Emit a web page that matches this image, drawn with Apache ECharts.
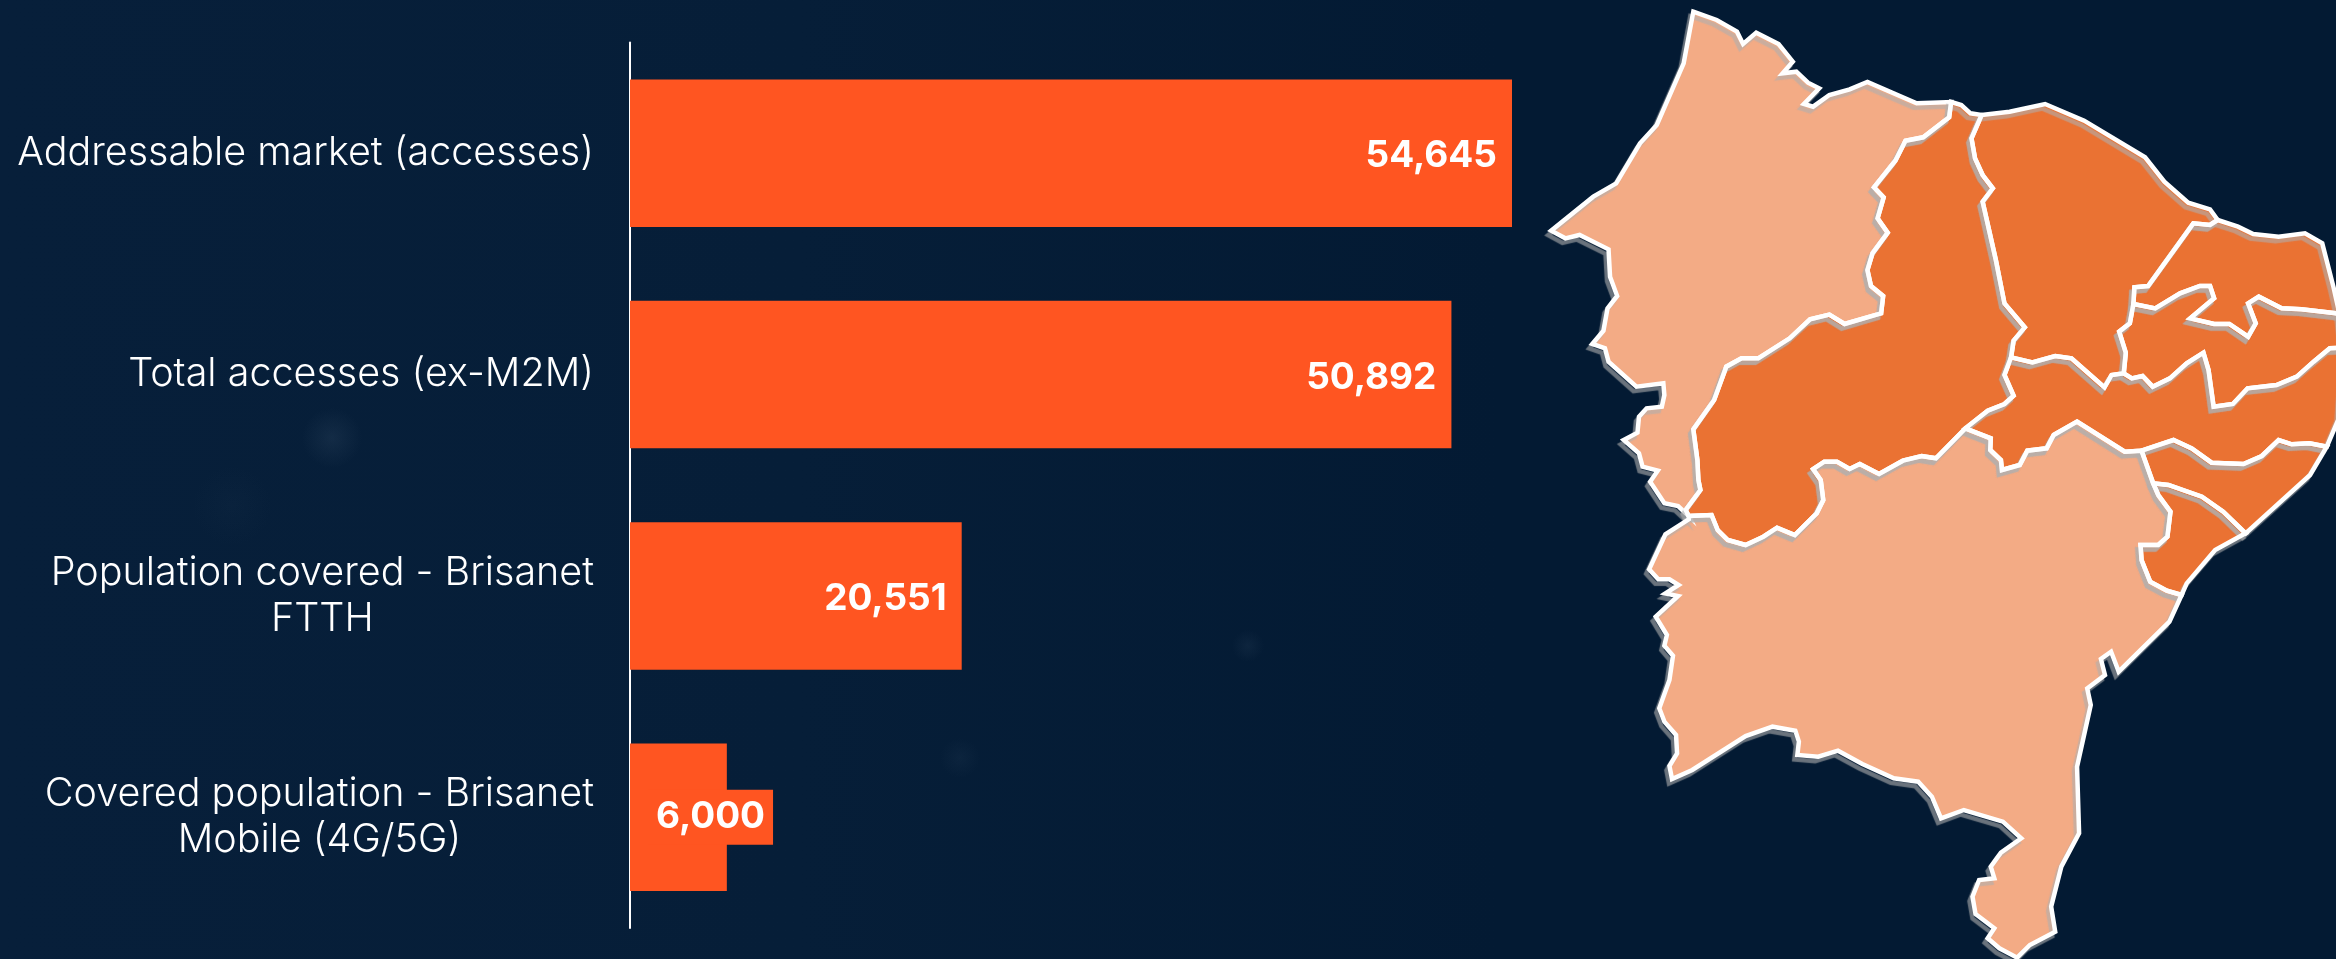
<!DOCTYPE html>
<html>
<head>
<meta charset="utf-8">
<title>Addressable market</title>
<script src="https://cdn.jsdelivr.net/npm/echarts@6/dist/echarts.min.js"></script>
<style>
  html, body { margin: 0; padding: 0; }
  #chart {
    width: 2336px;
    height: 959px;
    background-color: #041b35;
    background-image:
      radial-gradient(circle 30px at 332px 438px, rgba(70, 95, 120, 0.2), transparent),
      radial-gradient(circle 40px at 232px 506px, rgba(60, 85, 110, 0.06), transparent),
      radial-gradient(circle 16px at 1248px 646px, rgba(70, 95, 120, 0.14), transparent),
      radial-gradient(circle 20px at 960px 758px, rgba(70, 95, 120, 0.1), transparent),
      linear-gradient(90deg, #071f3a 0, #061e38 800px, #031a33 1500px);
  }
</style>
</head>
<body>
<div id="chart"></div>
<script>
// bar chart values
const categories = [
  "Addressable market (accesses)",
  "Total accesses (ex-M2M)",
  "Population covered - Brisanet\nFTTH",
  "Covered population - Brisanet\nMobile (4G/5G)"
];
const accesses = [54645, 50892, 20551, 6000];

// state borders, one trace unit = 1/1.97 px wide, 1/3 px high
const maNorth = [[302,35],[348,60],[388,95],[400,132],[426,98],[470,132],[498,185],[478,220],[505,215],[528,248],[550,265],[520,312],[538,320],[570,285],[610,268],[645,246],[742,310],[810,306]];
const maPiBorder = [[810,306],[806,352],[755,412],[720,422],[700,482],[658,562],[677,592],[665,655],[685,698],[655,760],[645,810],[652,858],[676,888],[672,940],[600,972],[570,944],[532,958],[492,1015],[430,1075],[397,1075],[367,1100],[343,1200],[302,1288],[310,1380],[312,1440],[316,1470],[287,1530],[293,1548]];
const maWest = [[293,1548],[272,1518],[245,1510],[217,1445],[232,1412],[202,1400],[195,1360],[165,1320],[192,1298],[195,1250],[210,1225],[240,1220],[245,1185],[243,1150],[190,1160],[135,1085],[128,1045],[103,1032],[125,992],[133,925],[152,888],[138,830],[135,748],[78,705],[50,715],[22,692],[105,590],[150,550],[197,430],[230,375],[283,190],[302,35]];
const piNorth = [[810,306],[830,315],[848,340],[870,345]];
const piCeBorder = [[870,345],[850,415],[857,475],[872,525],[892,565],[872,605],[898,780],[915,910],[955,982],[933,1022],[928,1072]];
const piPeBorder = [[928,1072],[915,1125],[933,1187],[915,1212],[882,1232],[838,1285]];
const piBaBorder = [[838,1285],[780,1375],[752,1368],[715,1382],[668,1422],[630,1392],[610,1407],[585,1385],[560,1385],[538,1407],[553,1440],[558,1500],[545,1540],[502,1605],[467,1583],[440,1610],[405,1635],[370,1620],[350,1590],[338,1545],[293,1548]];
const ceCoast = [[870,345],[925,335],[995,312],[1072,362],[1192,472],[1230,545],[1277,608],[1320,628],[1335,660]];
const ceRnBorder = [[1335,660],[1320,675],[1287,670],[1198,858],[1171,862],[1169,912]];
const cePbBorder = [[1169,912],[1162,970],[1141,995],[1154,1058],[1150,1120]];
const cePeBorder = [[1150,1120],[1126,1125],[1112,1162],[1047,1075],[1015,1068],[970,1087],[928,1072]];
const rnCoast = [[1335,660],[1375,680],[1405,702],[1455,710],[1507,700],[1541,730],[1563,860],[1575,942]];
const rnPbBorder = [[1575,942],[1568,940],[1500,928],[1461,925],[1416,890],[1395,910],[1410,970],[1395,1010],[1358,972],[1328,972],[1281,955],[1328,895],[1320,858],[1300,858],[1261,880],[1212,925],[1169,912]];
const pbPeBorder = [[1150,1120],[1166,1135],[1187,1128],[1207,1160],[1241,1135],[1274,1090],[1307,1058],[1317,1110],[1327,1220],[1365,1212],[1394,1165],[1451,1155],[1491,1130],[1524,1085],[1556,1045],[1582,1043]];
const pbCoast = [[1575,942],[1582,1043]];
const peCoast = [[1582,1043],[1582,1100],[1575,1250],[1550,1340]];
const peAlBorder = [[1550,1340],[1516,1330],[1481,1333],[1455,1320],[1422,1368],[1386,1392],[1323,1388],[1284,1345],[1248,1320],[1185,1352]];
const peBaBorder = [[1185,1352],[1152,1355],[1058,1265],[1012,1305],[998,1345],[960,1352],[945,1395],[910,1410],[908,1380],[887,1350],[888,1315],[838,1285]];
const alCoast = [[1550,1340],[1517,1425],[1390,1600]];
const alSeBorder = [[1390,1600],[1346,1535],[1304,1490],[1238,1455],[1208,1450]];
const alBaBorder = [[1208,1450],[1185,1352]];
const seBaBorder = [[1208,1450],[1218,1485],[1242,1535],[1236,1610],[1218,1635],[1183,1635],[1185,1680],[1202,1745],[1235,1772],[1264,1785]];
const seCoast = [[1264,1785],[1274,1750],[1330,1650],[1390,1600]];
const baCoast = [[1264,1785],[1240,1865],[1140,2015],[1125,1955],[1105,1977],[1113,2025],[1078,2065],[1085,2115],[1058,2300],[1062,2500],[1027,2600],[1007,2720],[1015,2795],[965,2835],[940,2873],[905,2845],[882,2815],[895,2785],[858,2742],[852,2690],[865,2640],[895,2635],[888,2600],[908,2558],[948,2515],[912,2465],[835,2430],[790,2455],[772,2390],[745,2345],[697,2335],[635,2292],[587,2252],[548,2270],[507,2265],[510,2225],[503,2192],[458,2180],[405,2208],[300,2310],[260,2337],[255,2298],[270,2260],[268,2205],[245,2165],[235,2125],[255,2040],[262,1967],[245,1937],[250,1905],[228,1850],[272,1788],[247,1780],[273,1755],[255,1738],[233,1738],[215,1708],[247,1603],[293,1558],[293,1548]];

// which states are highlighted (1 = dark orange)
const stateNames = ["Maranhão", "Piauí", "Ceará", "Rio Grande do Norte", "Paraíba", "Pernambuco", "Alagoas", "Sergipe", "Bahia"];
const stateClass = [0, 1, 1, 1, 1, 1, 1, 1, 0];

const rev = (line) => line.slice().reverse();
const stateRings = [
  [maNorth, maPiBorder, maWest],
  [piNorth, piCeBorder, piPeBorder, piBaBorder, rev(maPiBorder)],
  [ceCoast, ceRnBorder, cePbBorder, cePeBorder, rev(piCeBorder)],
  [rnCoast, rnPbBorder, rev(ceRnBorder)],
  [pbCoast, rev(pbPeBorder), rev(cePbBorder), rev(rnPbBorder)],
  [pbPeBorder, peCoast, peAlBorder, peBaBorder, rev(piPeBorder), rev(cePeBorder)],
  [alCoast, alSeBorder, alBaBorder, rev(peAlBorder)],
  [seBaBorder, seCoast, alSeBorder],
  [baCoast, rev(piBaBorder), rev(peBaBorder), rev(alBaBorder), seBaBorder]
];

const geoJson = {
  type: "FeatureCollection",
  features: stateNames.map((name, i) => ({
    type: "Feature",
    properties: { name: name },
    geometry: { type: "Polygon", coordinates: [stateRings[i].flat()] }
  }))
};
// the two layers: fills, then outlines with their shadow on top
echarts.registerMap("nordeste-fill", geoJson);
echarts.registerMap("nordeste-line", geoJson);

const allPoints = stateRings.flat(2);
const xs = allPoints.map((p) => p[0]);
const ys = allPoints.map((p) => p[1]);
const minX = Math.min(...xs), maxX = Math.max(...xs);
const minY = Math.min(...ys), maxY = Math.max(...ys);
const mapBox = {
  left: 1540 + minX / 1.97,
  top: minY / 3,
  width: (maxX - minX) / 1.97,
  height: (maxY - minY) / 3
};

const flatProjection = { project: (p) => p, unproject: (p) => p };
const uiFont = "Inter";

const chart = echarts.init(document.getElementById("chart"), null, { renderer: "canvas" });
chart.setOption({
  backgroundColor: "transparent",
  animation: false,
  grid: { left: 630, top: 42.5, width: 882, height: 885.5 },
  xAxis: { type: "value", min: 0, max: 54645, show: false },
  yAxis: {
    type: "category",
    inverse: true,
    data: categories,
    axisTick: { show: false },
    axisLine: { lineStyle: { color: "#ffffff", width: 2 } },
    axisLabel: {
      margin: 36,
      align: "right",
      formatter: (value) => value.split("\n").map((line) => "{c|" + line + "}").join("\n"),
      rich: {
        c: {
          color: "#ffffff",
          fontFamily: uiFont,
          fontWeight: 300,
          fontSize: 39.5,
          lineHeight: 46,
          align: "center"
        }
      }
    }
  },
  series: [
    {
      type: "bar",
      data: accesses.map((v, i) => {
        if (i !== 3) return v;
        // the short bar keeps its number in a box that pokes out past the bar
        return {
          value: v,
          label: {
            position: "insideLeft",
            distance: 18,
            offset: [0, 0],
            backgroundColor: "#ff5521",
            padding: [11, 8, 7, 8]
          }
        };
      }),
      barCategoryGap: "33.4%",
      itemStyle: { color: "#ff5521" },
      silent: true,
      label: {
        show: true,
        position: "insideRight",
        distance: 15,
        offset: [0, 3],
        color: "#ffffff",
        fontFamily: uiFont,
        fontWeight: 700,
        fontSize: 37,
        formatter: (p) => p.value.toLocaleString("en-US")
      }
    },
    {
      type: "map",
      map: "nordeste-fill",
      projection: flatProjection,
      left: mapBox.left,
      top: mapBox.top,
      width: mapBox.width,
      height: mapBox.height,
      silent: true,
      label: { show: false },
      emphasis: { disabled: true },
      itemStyle: { borderWidth: 0 },
      data: stateNames.map((name, i) => ({
        name: name,
        value: stateClass[i],
        itemStyle: { areaColor: stateClass[i] ? "#ea7233" : "#f3ab85" }
      }))
    },
    {
      type: "map",
      map: "nordeste-line",
      projection: flatProjection,
      left: mapBox.left,
      top: mapBox.top,
      width: mapBox.width,
      height: mapBox.height,
      silent: true,
      label: { show: false },
      emphasis: { disabled: true },
      itemStyle: {
        areaColor: "transparent",
        borderColor: "#ffffff",
        borderWidth: 4.5,
        shadowColor: "rgba(175, 175, 175, 0.6)",
        shadowBlur: 1,
        shadowOffsetX: -3,
        shadowOffsetY: 4.5
      },
      data: stateNames.map((name) => ({ name: name, value: 0 }))
    }
  ]
});
</script>
</body>
</html>
